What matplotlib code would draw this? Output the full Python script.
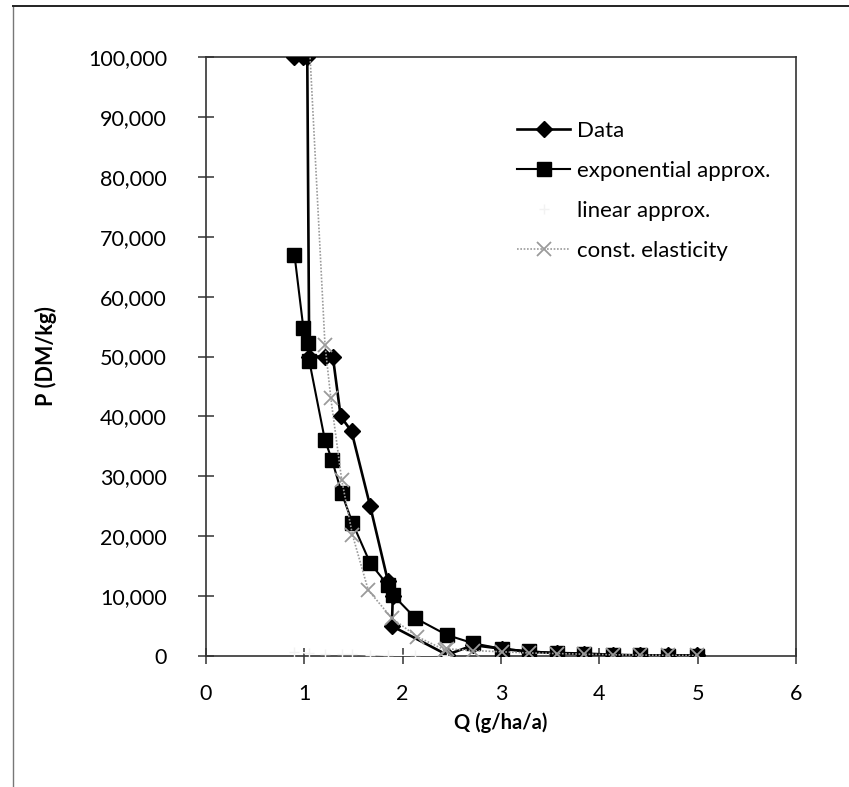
import matplotlib
matplotlib.use("Agg")
import matplotlib.pyplot as plt
from matplotlib.lines import Line2D
from matplotlib.ticker import FuncFormatter, MultipleLocator

plt.rcParams['font.family'] = ['Lato', 'DejaVu Sans']

# Observed demand points: quantity Q (g/ha/a) vs price P (DM/kg)
data_q = [0.90, 0.99, 1.03, 1.05, 1.21, 1.29, 1.37, 1.48, 1.67, 1.85, 1.90, 1.89,
          2.45, 2.72, 3.01, 3.28, 3.57, 3.84, 4.14, 4.41, 4.70, 4.99]
data_p = [100000, 100000, 100000, 50000, 50000, 50000, 40000, 37500, 25000, 12500, 10000, 5000,
          200, 1800, 1200, 700, 500, 400, 200, 100, 100, 100]

# Exponential approximation
exp_q = [0.90, 0.99, 1.04, 1.05, 1.21, 1.28, 1.38, 1.49, 1.67, 1.85, 1.90, 2.13,
         2.45, 2.72, 3.01, 3.28, 3.57, 3.84, 4.14, 4.41, 4.70, 4.99]
exp_p = [67000, 54800, 52200, 49300, 36000, 32800, 27200, 22200, 15500, 11800, 10200, 6300,
         3500, 2100, 1200, 800, 450, 300, 150, 100, 50, 30]

# Linear approximation (drawn in white)
lin_q = [0.90, 1.05, 1.21, 1.38, 1.49, 1.67, 1.85, 2.13, 2.45]
lin_p = [600, 500, 400, 300, 300, 200, 100, 100, 0]

# Constant elasticity approximation
ce_q = [1.04, 1.21, 1.27, 1.38, 1.49, 1.65, 1.89, 2.15, 2.43,
        2.45, 2.72, 3.01, 3.28, 3.57, 3.84, 4.14, 4.41, 4.70, 4.99]
ce_p = [106000, 52000, 43000, 29400, 20200, 11000, 6300, 3200, 1000,
        1200, 900, 700, 500, 400, 300, 200, 150, 100, 80]

x_ticks = [0, 1, 2, 3, 4, 5, 6]

fig = plt.figure(figsize=(8.49, 7.87), dpi=100)
ax = fig.add_axes([0.2426, 0.1665, 0.695, 0.761])

ax.plot(data_q, data_p, color='black', lw=1.9, marker='D', markersize=8.5,
        markerfacecolor='black', markeredgecolor='black', label='Data', zorder=3)
ax.plot(exp_q, exp_p, color='black', lw=1.5, marker='s', markersize=9.5,
        markerfacecolor='black', markeredgecolor='black', label='exponential approx.', zorder=4)
ax.plot(lin_q, lin_p, color='white', lw=1.0, marker='+', markersize=7,
        markeredgecolor='#f2f2f2', label='linear approx.', zorder=5)
ax.plot(ce_q, ce_p, color='#9a9a9a', lw=1.2, ls=(0, (1, 1)), marker='x', markersize=10,
        markeredgecolor='#9a9a9a', markeredgewidth=1.3, label='const. elasticity', zorder=6)

ax.set_xlim(0, 6)
ax.set_ylim(0, 100000)
ax.set_xticks(x_ticks)
ax.yaxis.set_major_locator(MultipleLocator(10000))
ax.yaxis.set_major_formatter(FuncFormatter(lambda v, p: f"{int(v):,}"))

for s in ax.spines.values():
    s.set_color('#333333')
    s.set_linewidth(1.2)

ax.tick_params(axis='both', direction='inout', length=12, width=1.1, color='#333333',
               labelsize=15.5, pad=14)
ax.tick_params(axis='y', pad=22)

ax.set_xlabel('Q (g/ha/a)', fontsize=14.5, fontweight='bold', labelpad=6)
ax.set_ylabel('P (DM/kg)', fontsize=15.5, fontweight='bold', labelpad=22)

leg = ax.legend(loc='upper left', bbox_to_anchor=(0.512, 0.908), frameon=False,
                fontsize=16, handlelength=2.4, handletextpad=0.3, labelspacing=0.9,
                borderaxespad=0.0)

# chart frame
fig.add_artist(Line2D([13 / 849, 13 / 849], [0, 1 - 6 / 787], transform=fig.transFigure,
                      color='#777777', lw=1.0))
fig.add_artist(Line2D([13 / 849, 1], [1 - 6 / 787, 1 - 6 / 787], transform=fig.transFigure,
                      color='#222222', lw=1.4))

fig.savefig('out.png', dpi=100)
